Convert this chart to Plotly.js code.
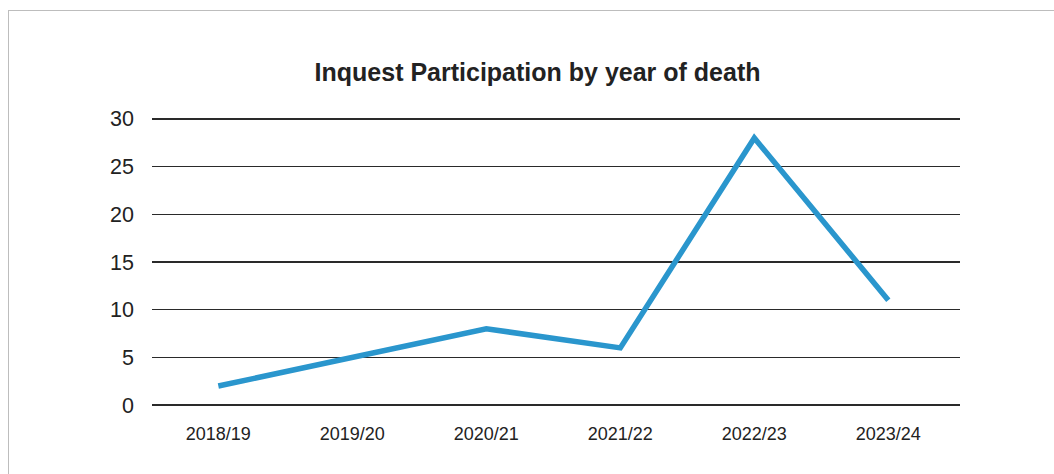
<!DOCTYPE html>
<html>
<head>
<meta charset="utf-8">
<script src="https://cdn.plot.ly/plotly-3.0.1.min.js"></script>
<style>
  html, body { margin: 0; padding: 0; background: #ffffff; overflow: hidden; }
  #frame {
    position: absolute; left: 8px; top: 10px; width: 1100px; height: 500px;
    border-left: 1px solid #bdbdbd; border-top: 1px solid #bdbdbd;
    pointer-events: none;
  }
  #chart { position: absolute; left: 0; top: 0; width: 1054px; height: 474px; }
</style>
</head>
<body>
<div id="chart"></div>
<div id="frame"></div>
<script>
// Financial years of death and the number of inquests participated in
const years = ["2018/19", "2019/20", "2020/21", "2021/22", "2022/23", "2023/24"];
const participations = [2, 5, 8, 6, 28, 11];
const yTicks = [0, 5, 10, 15, 20, 25, 30];

const textFont = "Liberation Sans, Arial, Helvetica, sans-serif";

const trace = {
  type: "scatter",
  mode: "lines",
  x: years,
  y: participations,
  line: { color: "#2a96cd", width: 5.5 },
  hoverinfo: "x+y"
};

const layout = {
  width: 1054,
  height: 474,
  margin: { l: 152, r: 94, t: 117.1, b: 66.6, pad: 0 },
  paper_bgcolor: "#ffffff",
  plot_bgcolor: "#ffffff",
  showlegend: false,
  font: { family: textFont, color: "#222222" },
  title: {
    text: "<b>Inquest Participation by year of death</b>",
    font: { family: textFont, size: 25, color: "#222222" },
    xref: "container", x: 0.51, xanchor: "center",
    yref: "container", y: 1 - 72 / 474, yanchor: "middle"
  },
  xaxis: {
    type: "category",
    range: [-0.495, 5.535],
    showgrid: false,
    zeroline: false,
    showline: false,
    ticks: "",
    ticklabelstandoff: 14,
    tickfont: { family: textFont, size: 18, color: "#222222" },
    fixedrange: true
  },
  yaxis: {
    range: [-0.2, 30.2],
    tickvals: yTicks,
    ticktext: yTicks.map(String),
    showgrid: true,
    gridcolor: "#2a2a2a",
    gridwidth: 1.5,
    zeroline: false,
    showline: false,
    ticks: "",
    ticklabelstandoff: 17,
    tickfont: { family: textFont, size: 21.5, color: "#222222" },
    fixedrange: true
  }
};

Plotly.newPlot("chart", [trace], layout, { displayModeBar: false, staticPlot: true });
</script>
</body>
</html>
